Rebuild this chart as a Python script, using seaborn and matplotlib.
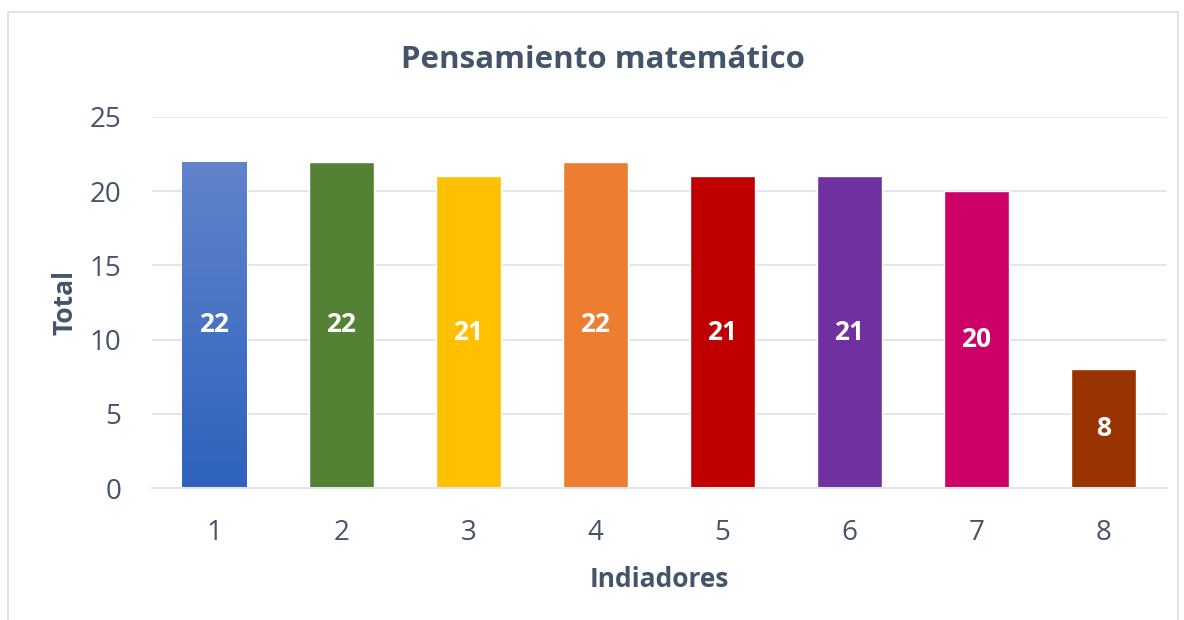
import numpy as np
import pandas as pd
import matplotlib
matplotlib.use("Agg")
import matplotlib.pyplot as plt
import matplotlib.patches as mpatches
from matplotlib.colors import LinearSegmentedColormap
import seaborn as sns

# data
indicadores = ["1", "2", "3", "4", "5", "6", "7", "8"]
totales = [22, 22, 21, 22, 21, 21, 20, 8]
colores = ["#4A74C6", "#548235", "#FFC000", "#ED7D31",
           "#C00000", "#7030A0", "#CC0066", "#993300"]

text_col = "#44546A"
grid_col = "#E1E5EA"

sns.set_theme(style="white")
plt.rcParams["font.family"] = ["Open Sans", "DejaVu Sans"]

df = pd.DataFrame({"Indiadores": indicadores, "Total": totales})

fig = plt.figure(figsize=(11.84, 6.2), dpi=100)
ax = fig.add_axes([0.1284, 0.2129, 0.857, 0.5984])

sns.barplot(data=df, x="Indiadores", y="Total", hue="Indiadores",
            palette=colores, width=0.51, legend=False, saturation=1, ax=ax)

# gradient on the first bar (light top, darker bottom)
grad = LinearSegmentedColormap.from_list("g", ["#2E62BD", "#6184CB"])
p0 = ax.patches[0]
bb = p0.get_bbox()
im = ax.imshow(np.linspace(0, 1, 256).reshape(-1, 1), cmap=grad, aspect="auto",
               origin="lower", extent=[bb.x0, bb.x1, bb.y0, bb.y1], zorder=p0.get_zorder() + 0.1)
im.set_clip_path(p0)

ax.set_xlim(-0.49, 7.5)
ax.set_ylim(0, 25)
ax.set_yticks([0, 5, 10, 15, 20, 25])
ax.yaxis.grid(True, color=grid_col, linewidth=1.3)
ax.set_axisbelow(True)
for s in ["top", "right", "left"]:
    ax.spines[s].set_visible(False)
ax.spines["bottom"].set_color(grid_col)
ax.spines["bottom"].set_linewidth(1.5)
ax.tick_params(axis="both", length=0, labelsize=20, colors=text_col)
ax.tick_params(axis="x", pad=22)
ax.tick_params(axis="y", pad=22)

# value labels in the middle of each bar
for p, v in zip(ax.patches, totales):
    ax.text(p.get_x() + p.get_width() / 2, v / 2, str(v), ha="center", va="center",
            color="white", fontsize=19, fontweight="bold", zorder=5)

ax.set_xlabel("Indiadores", fontsize=19, fontweight="bold", color=text_col, labelpad=14)
ax.set_ylabel("Total", fontsize=19, fontweight="bold", color=text_col, labelpad=8)
fig.text(0.509, 0.904, "Pensamiento matemático", ha="center", va="center",
         fontsize=22.5, fontweight="bold", color=text_col)

# chart area border
fig.patches.append(mpatches.Rectangle((8 / 1184, -0.01), 1170 / 1184, 0.99, transform=fig.transFigure,
                                      fill=False, edgecolor="#D9DEE5", linewidth=1.2))

fig.savefig("out.png", dpi=100, facecolor="white")
